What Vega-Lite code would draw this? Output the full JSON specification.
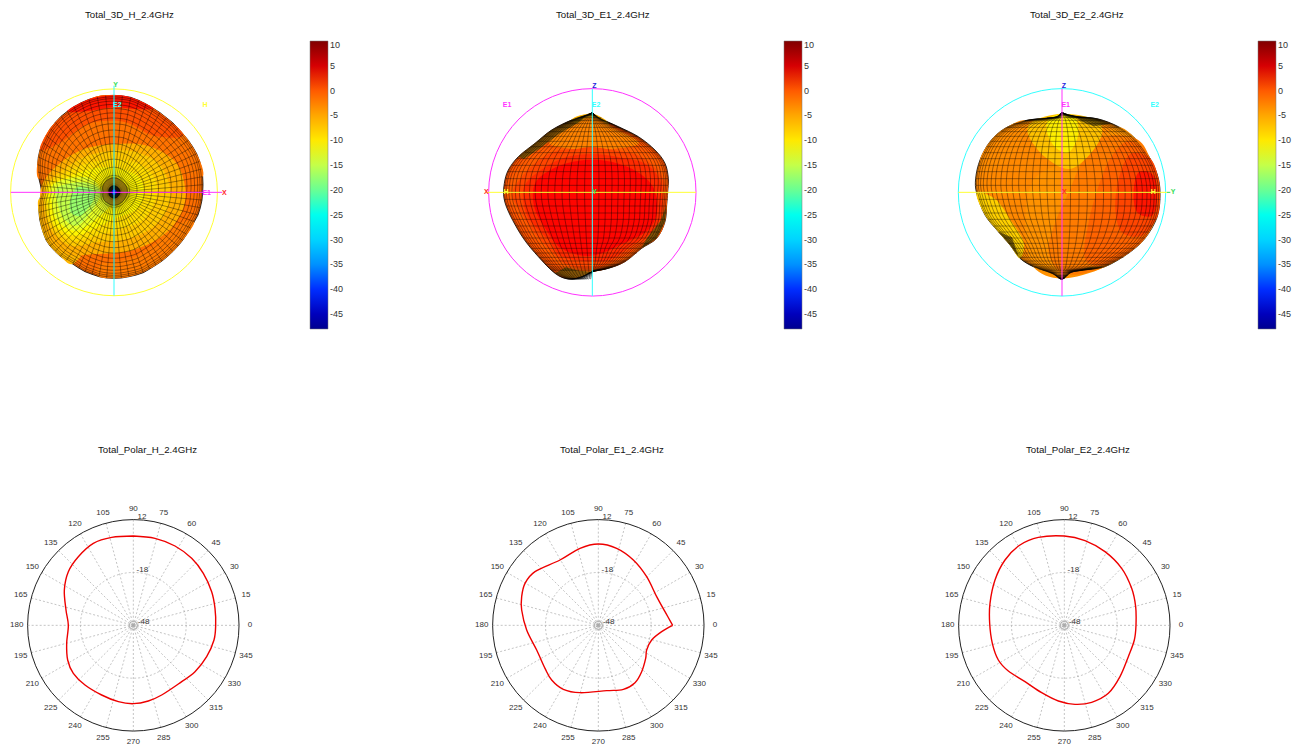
{"$schema":"https://vega.github.io/schema/vega-lite/v6.json","padding":{"left":0,"top":10,"right":0,"bottom":0},"bounds":"flush","spacing":435,"resolve":{"scale":{"fill":"independent"},"legend":{"fill":"independent"}},
"config":{"view":{"stroke":null},"mark":{"color":"#000"},"line":{"order":false},"style":{"m":{"strokeWidth":0.55,"opacity":0.7,"interpolate":"cardinal"},"r":{"strokeWidth":0.55,"opacity":0.7}},"title":{"font":"Liberation Sans","fontSize":9.7,"fontWeight":"normal","color":"#111","anchor":"start"},"text":{"font":"Liberation Sans"},"legend":{"labelFont":"Liberation Sans"}},
"datasets":{
"cen":[{"x":0,"y":0}],
"sp":[{"x":317,"y":0,"l":"0","lx":350,"ly":0},{"x":306,"y":82,"l":"15","lx":338,"ly":91},{"x":275,"y":159,"l":"30","lx":303,"ly":175},{"x":224,"y":224,"l":"45","lx":248,"ly":248},{"x":159,"y":275,"l":"60","lx":175,"ly":303},{"x":82,"y":306,"l":"75","lx":91,"ly":338},{"x":0,"y":317,"l":"90","lx":0,"ly":350},{"x":-82,"y":306,"l":"105","lx":-91,"ly":338},{"x":-159,"y":275,"l":"120","lx":-175,"ly":303},{"x":-224,"y":224,"l":"135","lx":-248,"ly":248},{"x":-275,"y":159,"l":"150","lx":-303,"ly":175},{"x":-306,"y":82,"l":"165","lx":-338,"ly":91},{"x":-317,"y":0,"l":"180","lx":-350,"ly":0},{"x":-306,"y":-82,"l":"195","lx":-338,"ly":-91},{"x":-275,"y":-159,"l":"210","lx":-303,"ly":-175},{"x":-224,"y":-224,"l":"225","lx":-248,"ly":-248},{"x":-159,"y":-275,"l":"240","lx":-175,"ly":-303},{"x":-82,"y":-306,"l":"255","lx":-91,"ly":-338},{"x":0,"y":-317,"l":"270","lx":0,"ly":-350},{"x":82,"y":-306,"l":"285","lx":91,"ly":-338},{"x":159,"y":-275,"l":"300","lx":175,"ly":-303},{"x":224,"y":-224,"l":"315","lx":248,"ly":-248},{"x":275,"y":-159,"l":"330","lx":303,"ly":-175},{"x":306,"y":-82,"l":"345","lx":338,"ly":-91}],
"dbl":[{"l":"12","x":26,"y":326},{"l":"-18","x":27,"y":167},{"l":"-48","x":31,"y":11}],
"cH":[{"x":0,"y":268},{"x":65,"y":261},{"x":125,"y":238},{"x":175,"y":201},{"x":210,"y":156},{"x":235,"y":101},{"x":245,"y":51},{"x":247,"y":0},{"x":242,"y":-44},{"x":220,"y":-94},{"x":185,"y":-139},{"x":135,"y":-176},{"x":85,"y":-209},{"x":45,"y":-227},{"x":0,"y":-235},{"x":-45,"y":-229},{"x":-95,"y":-209},{"x":-145,"y":-179},{"x":-180,"y":-144},{"x":-197,"y":-104},{"x":-200,"y":-54},{"x":-195,"y":0},{"x":-202,"y":46},{"x":-207,"y":106},{"x":-195,"y":161},{"x":-165,"y":206},{"x":-120,"y":246},{"x":-65,"y":264},{"x":0,"y":268}],
"cE1":[{"x":223,"y":0},{"x":190,"y":-19},{"x":160,"y":-44},{"x":145,"y":-74},{"x":142,"y":-99},{"x":130,"y":-139},{"x":110,"y":-172},{"x":75,"y":-192},{"x":25,"y":-196},{"x":-55,"y":-202},{"x":-105,"y":-192},{"x":-140,"y":-164},{"x":-160,"y":-129},{"x":-185,"y":-74},{"x":-215,"y":-14},{"x":-230,"y":46},{"x":-230,"y":86},{"x":-220,"y":126},{"x":-190,"y":161},{"x":-115,"y":196},{"x":-55,"y":231},{"x":0,"y":244},{"x":55,"y":231},{"x":105,"y":196},{"x":145,"y":146},{"x":175,"y":86},{"x":200,"y":41},{"x":223,"y":0}],
"cE2":[{"x":215,"y":0},{"x":210,"y":-44},{"x":192,"y":-94},{"x":167,"y":-154},{"x":132,"y":-204},{"x":82,"y":-231},{"x":32,"y":-237},{"x":-18,"y":-227},{"x":-68,"y":-202},{"x":-118,"y":-169},{"x":-168,"y":-137},{"x":-198,"y":-104},{"x":-216,"y":-54},{"x":-224,"y":6},{"x":-223,"y":66},{"x":-208,"y":136},{"x":-178,"y":196},{"x":-133,"y":241},{"x":-78,"y":264},{"x":0,"y":268},{"x":62,"y":254},{"x":122,"y":221},{"x":172,"y":171},{"x":202,"y":111},{"x":214,"y":56},{"x":215,"y":0}],
"hS":[{"x":266,"y":0},{"x":267,"y":23},{"x":266,"y":47},{"x":263,"y":70},{"x":257,"y":93},{"x":248,"y":116},{"x":236,"y":137},{"x":223,"y":156},{"x":208,"y":174},{"x":192,"y":192},{"x":176,"y":209},{"x":157,"y":224},{"x":138,"y":239},{"x":118,"y":252},{"x":96,"y":265},{"x":74,"y":276},{"x":50,"y":285},{"x":25,"y":289},{"x":0,"y":291},{"x":-25,"y":290},{"x":-50,"y":286},{"x":-75,"y":279},{"x":-98,"y":269},{"x":-120,"y":257},{"x":-140,"y":243},{"x":-159,"y":228},{"x":-176,"y":210},{"x":-191,"y":191},{"x":-203,"y":170},{"x":-213,"y":149},{"x":-222,"y":128},{"x":-227,"y":106},{"x":-229,"y":83},{"x":-228,"y":61},{"x":-225,"y":40},{"x":-220,"y":19},{"x":-217,"y":0},{"x":-222,"y":-19},{"x":-226,"y":-40},{"x":-225,"y":-60},{"x":-223,"y":-81},{"x":-218,"y":-102},{"x":-212,"y":-122},{"x":-204,"y":-143},{"x":-192,"y":-161},{"x":-177,"y":-177},{"x":-161,"y":-192},{"x":-143,"y":-204},{"x":-124,"y":-215},{"x":-106,"y":-227},{"x":-87,"y":-238},{"x":-66,"y":-246},{"x":-45,"y":-253},{"x":-22,"y":-257},{"x":0,"y":-258},{"x":22,"y":-257},{"x":45,"y":-253},{"x":67,"y":-248},{"x":88,"y":-241},{"x":107,"y":-230},{"x":126,"y":-218},{"x":144,"y":-206},{"x":161,"y":-192},{"x":177,"y":-177},{"x":192,"y":-161},{"x":206,"y":-144},{"x":218,"y":-126},{"x":230,"y":-107},{"x":241,"y":-88},{"x":252,"y":-68},{"x":259,"y":-46},{"x":264,"y":-23},{"x":266,"y":0}],
"hP":[
{"k":"b","v":-1.5,"x":-225,"y":40},{"k":"b","v":-1.5,"x":-222,"y":128},{"k":"b","v":-1.5,"x":-176,"y":210},{"k":"b","v":-1.5,"x":-75,"y":279},{"k":"b","v":-1.5,"x":0,"y":291},{"k":"b","v":-1.5,"x":96,"y":265},{"k":"b","v":-1.5,"x":192,"y":192},{"k":"b","v":-1.5,"x":248,"y":116},{"k":"b","v":-1.5,"x":266,"y":47},{"k":"b","v":-1.5,"x":200,"y":60},{"k":"b","v":-1.5,"x":150,"y":100},{"k":"b","v":-1.5,"x":60,"y":150},{"k":"b","v":-1.5,"x":0,"y":170},{"k":"b","v":-1.5,"x":-80,"y":150},{"k":"b","v":-1.5,"x":-150,"y":90},
{"k":"c","v":0.5,"x":-222,"y":128},{"k":"c","v":0.5,"x":-176,"y":210},{"k":"c","v":0.5,"x":-75,"y":279},{"k":"c","v":0.5,"x":0,"y":291},{"k":"c","v":0.5,"x":96,"y":265},{"k":"c","v":0.5,"x":208,"y":174},{"k":"c","v":0.5,"x":120,"y":170},{"k":"c","v":0.5,"x":50,"y":205},{"k":"c","v":0.5,"x":0,"y":215},{"k":"c","v":0.5,"x":-80,"y":205},{"k":"c","v":0.5,"x":-160,"y":150},
{"k":"d","v":2.5,"x":-140,"y":243},{"k":"d","v":2.5,"x":-75,"y":279},{"k":"d","v":2.5,"x":0,"y":291},{"k":"d","v":2.5,"x":50,"y":285},{"k":"d","v":2.5,"x":118,"y":252},{"k":"d","v":2.5,"x":60,"y":250},{"k":"d","v":2.5,"x":0,"y":255},{"k":"d","v":2.5,"x":-70,"y":245},
{"k":"e","v":-2,"x":241,"y":-88},{"k":"e","v":-2,"x":192,"y":-161},{"k":"e","v":-2,"x":126,"y":-218},{"k":"e","v":-2,"x":45,"y":-253},{"k":"e","v":-2,"x":-45,"y":-253},{"k":"e","v":-2,"x":-40,"y":-215},{"k":"e","v":-2,"x":0,"y":-210},{"k":"e","v":-2,"x":70,"y":-190},{"k":"e","v":-2,"x":130,"y":-150},{"k":"e","v":-2,"x":180,"y":-100},
{"k":"f","v":-6,"x":-222,"y":-19},{"k":"f","v":-6,"x":-223,"y":-81},{"k":"f","v":-6,"x":-204,"y":-143},{"k":"f","v":-6,"x":-161,"y":-192},{"k":"f","v":-6,"x":-124,"y":-215},{"k":"f","v":-6,"x":-90,"y":-160},{"k":"f","v":-6,"x":-150,"y":-90},
{"k":"g0","v":-5.5,"x":215,"y":0},{"k":"g0","v":-5.5,"x":185,"y":90},{"k":"g0","v":-5.5,"x":100,"y":140},{"k":"g0","v":-5.5,"x":0,"y":145},{"k":"g0","v":-5.5,"x":-90,"y":130},{"k":"g0","v":-5.5,"x":-165,"y":85},{"k":"g0","v":-5.5,"x":-215,"y":25},{"k":"g0","v":-5.5,"x":-220,"y":-40},{"k":"g0","v":-5.5,"x":-205,"y":-125},{"k":"g0","v":-5.5,"x":-145,"y":-185},{"k":"g0","v":-5.5,"x":-60,"y":-185},{"k":"g0","v":-5.5,"x":50,"y":-175},{"k":"g0","v":-5.5,"x":140,"y":-135},{"k":"g0","v":-5.5,"x":195,"y":-75},
{"k":"g","v":-7.5,"x":170,"y":0},{"k":"g","v":-7.5,"x":140,"y":80},{"k":"g","v":-7.5,"x":70,"y":120},{"k":"g","v":-7.5,"x":0,"y":125},{"k":"g","v":-7.5,"x":-80,"y":110},{"k":"g","v":-7.5,"x":-150,"y":70},{"k":"g","v":-7.5,"x":-205,"y":20},{"k":"g","v":-7.5,"x":-210,"y":-40},{"k":"g","v":-7.5,"x":-190,"y":-110},{"k":"g","v":-7.5,"x":-130,"y":-160},{"k":"g","v":-7.5,"x":-50,"y":-150},{"k":"g","v":-7.5,"x":40,"y":-140},{"k":"g","v":-7.5,"x":110,"y":-110},{"k":"g","v":-7.5,"x":155,"y":-60},
{"k":"g2","v":-9,"x":130,"y":0},{"k":"g2","v":-9,"x":105,"y":65},{"k":"g2","v":-9,"x":35,"y":97},{"k":"g2","v":-9,"x":-70,"y":90},{"k":"g2","v":-9,"x":-145,"y":58},{"k":"g2","v":-9,"x":-200,"y":18},{"k":"g2","v":-9,"x":-203,"y":-45},{"k":"g2","v":-9,"x":-182,"y":-105},{"k":"g2","v":-9,"x":-125,"y":-145},{"k":"g2","v":-9,"x":-55,"y":-130},{"k":"g2","v":-9,"x":20,"y":-110},{"k":"g2","v":-9,"x":90,"y":-80},
{"k":"h","v":-11,"x":90,"y":0},{"k":"h","v":-11,"x":70,"y":50},{"k":"h","v":-11,"x":0,"y":75},{"k":"h","v":-11,"x":-70,"y":70},{"k":"h","v":-11,"x":-140,"y":45},{"k":"h","v":-11,"x":-195,"y":15},{"k":"h","v":-11,"x":-195,"y":-50},{"k":"h","v":-11,"x":-175,"y":-100},{"k":"h","v":-11,"x":-120,"y":-130},{"k":"h","v":-11,"x":-60,"y":-110},{"k":"h","v":-11,"x":0,"y":-80},{"k":"h","v":-11,"x":70,"y":-50},
{"k":"i0","v":-13,"x":-30,"y":0},{"k":"i0","v":-13,"x":-80,"y":45},{"k":"i0","v":-13,"x":-180,"y":25},{"k":"i0","v":-13,"x":-185,"y":-40},{"k":"i0","v":-13,"x":-165,"y":-90},{"k":"i0","v":-13,"x":-115,"y":-115},{"k":"i0","v":-13,"x":-60,"y":-85},{"k":"i0","v":-13,"x":-10,"y":-35},
{"k":"i","v":-15,"x":-40,"y":0},{"k":"i","v":-15,"x":-90,"y":30},{"k":"i","v":-15,"x":-170,"y":15},{"k":"i","v":-15,"x":-170,"y":-30},{"k":"i","v":-15,"x":-150,"y":-80},{"k":"i","v":-15,"x":-110,"y":-100},{"k":"i","v":-15,"x":-70,"y":-60},
{"k":"j","v":-17.5,"x":-60,"y":5},{"k":"j","v":-17.5,"x":-110,"y":15},{"k":"j","v":-17.5,"x":-130,"y":-20},{"k":"j","v":-17.5,"x":-130,"y":-60},{"k":"j","v":-17.5,"x":-100,"y":-70},{"k":"j","v":-17.5,"x":-65,"y":-30}],
"hA":[{"s":"E1","x":-310,"y":0,"x2":325,"y2":0},{"s":"E2","x":0,"y":320,"x2":0,"y2":-310}],
"hT":[{"s":"Y","x":5,"y":322},{"s":"E2","x":10,"y":262},{"s":"H","x":273,"y":262},{"s":"E1","x":278,"y":-2},{"s":"X","x":331,"y":-2}],
"hC":[{"s":"H","x":0,"y":0}],
"e1S":[{"x":0,"y":239},{"x":23,"y":222},{"x":78,"y":197},{"x":138,"y":167},{"x":188,"y":127},{"x":218,"y":87},{"x":228,"y":42},{"x":226,"y":0},{"x":223,"y":-38},{"x":218,"y":-88},{"x":193,"y":-138},{"x":148,"y":-168},{"x":98,"y":-208},{"x":48,"y":-228},{"x":0,"y":-238},{"x":-32,"y":-253},{"x":-72,"y":-260},{"x":-112,"y":-243},{"x":-162,"y":-193},{"x":-207,"y":-138},{"x":-247,"y":-68},{"x":-265,"y":-18},{"x":-264,"y":27},{"x":-252,"y":67},{"x":-222,"y":107},{"x":-172,"y":147},{"x":-122,"y":187},{"x":-62,"y":217},{"x":-17,"y":232},{"x":0,"y":239}],
"e1L":[{"y":234,"x":-12,"x2":5},{"y":230,"x":-24,"x2":12},{"y":224,"x":-35,"x2":27},{"y":216,"x":-64,"x2":36},{"y":206,"x":-84,"x2":58},{"y":195,"x":-106,"x2":81},{"y":182,"x":-128,"x2":104},{"y":168,"x":-146,"x2":136},{"y":153,"x":-165,"x2":155},{"y":137,"x":-185,"x2":175},{"y":119,"x":-202,"x2":194},{"y":101,"x":-226,"x2":207},{"y":81,"x":-241,"x2":219},{"y":62,"x":-254,"x2":224},{"y":41,"x":-260,"x2":228},{"y":21,"x":-264,"x2":227},{"y":0,"x":-265,"x2":226},{"y":-21,"x":-264,"x2":226},{"y":-41,"x":-258,"x2":223},{"y":-62,"x":-249,"x2":222},{"y":-81,"x":-238,"x2":219},{"y":-101,"x":-228,"x2":211},{"y":-119,"x":-218,"x2":202},{"y":-137,"x":-208,"x2":193},{"y":-153,"x":-195,"x2":170},{"y":-168,"x":-183,"x2":148},{"y":-182,"x":-171,"x2":134},{"y":-195,"x":-160,"x2":114},{"y":-206,"x":-150,"x2":100},{"y":-216,"x":-142,"x2":80},{"y":-224,"x":-133,"x2":58},{"y":-230,"x":-125,"x2":40},{"y":-234,"x":-120,"x2":20}],
"e1P":[
{"k":"t","v":-6,"x":-62,"y":217},{"k":"t","v":-6,"x":0,"y":236},{"k":"t","v":-6,"x":50,"y":205},{"k":"t","v":-6,"x":0,"y":190},
{"k":"a","v":0,"x":-262,"y":10},{"k":"a","v":0,"x":-210,"y":90},{"k":"a","v":0,"x":-130,"y":150},{"k":"a","v":0,"x":-50,"y":180},{"k":"a","v":0,"x":0,"y":190},{"k":"a","v":0,"x":70,"y":170},{"k":"a","v":0,"x":140,"y":145},{"k":"a","v":0,"x":205,"y":90},{"k":"a","v":0,"x":226,"y":40},{"k":"a","v":0,"x":226,"y":0},{"k":"a","v":0,"x":218,"y":-88},{"k":"a","v":0,"x":193,"y":-138},{"k":"a","v":0,"x":148,"y":-168},{"k":"a","v":0,"x":98,"y":-208},{"k":"a","v":0,"x":48,"y":-228},{"k":"a","v":0,"x":0,"y":-238},{"k":"a","v":0,"x":-72,"y":-235},{"k":"a","v":0,"x":-120,"y":-200},{"k":"a","v":0,"x":-165,"y":-150},{"k":"a","v":0,"x":-210,"y":-90},{"k":"a","v":0,"x":-245,"y":-30},
{"k":"t2","v":-2.5,"x":-130,"y":150},{"k":"t2","v":-2.5,"x":-50,"y":205},{"k":"t2","v":-2.5,"x":0,"y":225},{"k":"t2","v":-2.5,"x":60,"y":195},{"k":"t2","v":-2.5,"x":140,"y":148},{"k":"t2","v":-2.5,"x":60,"y":130},{"k":"t2","v":-2.5,"x":0,"y":135},{"k":"t2","v":-2.5,"x":-60,"y":130},
{"k":"b","v":1,"x":-240,"y":0},{"k":"b","v":1,"x":-190,"y":70},{"k":"b","v":1,"x":-120,"y":120},{"k":"b","v":1,"x":-50,"y":130},{"k":"b","v":1,"x":0,"y":135},{"k":"b","v":1,"x":70,"y":125},{"k":"b","v":1,"x":140,"y":110},{"k":"b","v":1,"x":200,"y":60},{"k":"b","v":1,"x":222,"y":0},{"k":"b","v":1,"x":212,"y":-80},{"k":"b","v":1,"x":185,"y":-125},{"k":"b","v":1,"x":140,"y":-160},{"k":"b","v":1,"x":90,"y":-195},{"k":"b","v":1,"x":0,"y":-230},{"k":"b","v":1,"x":-80,"y":-215},{"k":"b","v":1,"x":-130,"y":-170},{"k":"b","v":1,"x":-175,"y":-120},{"k":"b","v":1,"x":-220,"y":-50},
{"k":"c0","v":2,"x":-205,"y":15},{"k":"c0","v":2,"x":-150,"y":70},{"k":"c0","v":2,"x":-80,"y":105},{"k":"c0","v":2,"x":0,"y":115},{"k":"c0","v":2,"x":80,"y":105},{"k":"c0","v":2,"x":160,"y":85},{"k":"c0","v":2,"x":205,"y":30},{"k":"c0","v":2,"x":208,"y":-60},{"k":"c0","v":2,"x":180,"y":-118},{"k":"c0","v":2,"x":120,"y":-158},{"k":"c0","v":2,"x":40,"y":-205},{"k":"c0","v":2,"x":-85,"y":-195},{"k":"c0","v":2,"x":-135,"y":-140},{"k":"c0","v":2,"x":-195,"y":-70},
{"k":"c","v":2.7,"x":-170,"y":30},{"k":"c","v":2.7,"x":-110,"y":75},{"k":"c","v":2.7,"x":-40,"y":95},{"k":"c","v":2.7,"x":40,"y":95},{"k":"c","v":2.7,"x":120,"y":70},{"k":"c","v":2.7,"x":180,"y":20},{"k":"c","v":2.7,"x":195,"y":-50},{"k":"c","v":2.7,"x":170,"y":-110},{"k":"c","v":2.7,"x":100,"y":-150},{"k":"c","v":2.7,"x":0,"y":-190},{"k":"c","v":2.7,"x":-90,"y":-170},{"k":"c","v":2.7,"x":-140,"y":-110},{"k":"c","v":2.7,"x":-175,"y":-40}],
"e1F":[
{"k":"a","x":-222,"y":107},{"k":"a","x":-172,"y":147},{"k":"a","x":-122,"y":187},{"k":"a","x":-62,"y":217},{"k":"a","x":-17,"y":232},{"k":"a","x":-40,"y":210},{"k":"a","x":-100,"y":175},{"k":"a","x":-160,"y":130},{"k":"a","x":-205,"y":100},
{"k":"b","x":223,"y":-38},{"k":"b","x":218,"y":-88},{"k":"b","x":193,"y":-138},{"k":"b","x":148,"y":-168},{"k":"b","x":165,"y":-135},{"k":"b","x":205,"y":-85},
{"k":"c","x":-112,"y":-243},{"k":"c","x":-72,"y":-260},{"k":"c","x":-32,"y":-253},{"k":"c","x":0,"y":-238},{"k":"c","x":-40,"y":-235},{"k":"c","x":-80,"y":-225}],
"e1A":[{"s":"H","x":-320,"y":0,"x2":311,"y2":0},{"s":"E2","x":0,"y":311,"x2":0,"y2":-311}],
"e1T":[{"s":"X","x":-318,"y":0},{"s":"H","x":-259,"y":0},{"s":"Z","x":6,"y":320},{"s":"E2","x":11,"y":262},{"s":"E1","x":-256,"y":262},{"s":"Y","x":7,"y":0}],
"e1C":[{"s":"E1","x":0,"y":0}],
"e2S":[{"x":0,"y":240},{"x":14,"y":234},{"x":49,"y":227},{"x":109,"y":220},{"x":169,"y":197},{"x":219,"y":162},{"x":264,"y":102},{"x":289,"y":42},{"x":294,"y":-18},{"x":284,"y":-78},{"x":249,"y":-138},{"x":199,"y":-183},{"x":129,"y":-223},{"x":69,"y":-233},{"x":29,"y":-240},{"x":0,"y":-260},{"x":-31,"y":-243},{"x":-86,"y":-223},{"x":-126,"y":-198},{"x":-156,"y":-158},{"x":-191,"y":-118},{"x":-231,"y":-68},{"x":-256,"y":-3},{"x":-259,"y":42},{"x":-246,"y":97},{"x":-216,"y":152},{"x":-171,"y":192},{"x":-111,"y":215},{"x":-51,"y":222},{"x":-16,"y":227},{"x":0,"y":240}],
"e2L":[{"y":234,"x":-8,"x2":14},{"y":230,"x":-12,"x2":34},{"y":224,"x":-45,"x2":75},{"y":216,"x":-105,"x2":115},{"y":206,"x":-146,"x2":146},{"y":195,"x":-165,"x2":172},{"y":182,"x":-182,"x2":190},{"y":168,"x":-199,"x2":209},{"y":153,"x":-215,"x2":226},{"y":137,"x":-224,"x2":238},{"y":119,"x":-234,"x2":250},{"y":101,"x":-244,"x2":265},{"y":81,"x":-250,"x2":272},{"y":62,"x":-254,"x2":280},{"y":41,"x":-259,"x2":289},{"y":21,"x":-258,"x2":292},{"y":0,"x":-256,"x2":293},{"y":-21,"x":-250,"x2":295},{"y":-41,"x":-242,"x2":290},{"y":-62,"x":-233,"x2":287},{"y":-81,"x":-221,"x2":282},{"y":-101,"x":-205,"x2":270},{"y":-119,"x":-190,"x2":260},{"y":-137,"x":-174,"x2":250},{"y":-153,"x":-160,"x2":232},{"y":-168,"x":-148,"x2":218},{"y":-182,"x":-136,"x2":202},{"y":-195,"x":-128,"x2":185},{"y":-206,"x":-113,"x2":159},{"y":-216,"x":-97,"x2":141},{"y":-224,"x":-84,"x2":120},{"y":-230,"x":-70,"x2":90},{"y":-234,"x":-58,"x2":62},{"y":-240,"x":-36,"x2":29},{"y":-250,"x":-18,"x2":14}],
"e2P":[
{"k":"a","v":-3.5,"x":-60,"y":60},{"k":"a","v":-3.5,"x":80,"y":120},{"k":"a","v":-3.5,"x":169,"y":197},{"k":"a","v":-3.5,"x":264,"y":102},{"k":"a","v":-3.5,"x":294,"y":-18},{"k":"a","v":-3.5,"x":249,"y":-138},{"k":"a","v":-3.5,"x":129,"y":-223},{"k":"a","v":-3.5,"x":0,"y":-258},{"k":"a","v":-3.5,"x":-86,"y":-223},{"k":"a","v":-3.5,"x":-110,"y":-120},{"k":"a","v":-3.5,"x":-100,"y":0},
{"k":"a2","v":-2,"x":20,"y":0},{"k":"a2","v":-2,"x":60,"y":90},{"k":"a2","v":-2,"x":120,"y":165},{"k":"a2","v":-2,"x":219,"y":162},{"k":"a2","v":-2,"x":264,"y":102},{"k":"a2","v":-2,"x":294,"y":-18},{"k":"a2","v":-2,"x":249,"y":-138},{"k":"a2","v":-2,"x":129,"y":-223},{"k":"a2","v":-2,"x":10,"y":-245},{"k":"a2","v":-2,"x":-40,"y":-180},{"k":"a2","v":-2,"x":-20,"y":-90},
{"k":"b","v":-0.5,"x":110,"y":20},{"k":"b","v":-0.5,"x":150,"y":110},{"k":"b","v":-0.5,"x":205,"y":155},{"k":"b","v":-0.5,"x":264,"y":102},{"k":"b","v":-0.5,"x":294,"y":-18},{"k":"b","v":-0.5,"x":249,"y":-138},{"k":"b","v":-0.5,"x":140,"y":-215},{"k":"b","v":-0.5,"x":70,"y":-200},{"k":"b","v":-0.5,"x":80,"y":-90},
{"k":"c","v":1,"x":170,"y":40},{"k":"c","v":1,"x":205,"y":115},{"k":"c","v":1,"x":264,"y":102},{"k":"c","v":1,"x":289,"y":42},{"k":"c","v":1,"x":294,"y":-18},{"k":"c","v":1,"x":284,"y":-78},{"k":"c","v":1,"x":240,"y":-130},{"k":"c","v":1,"x":180,"y":-120},{"k":"c","v":1,"x":160,"y":-50},
{"k":"c2","v":2.5,"x":230,"y":60},{"k":"c2","v":2.5,"x":275,"y":50},{"k":"c2","v":2.5,"x":285,"y":-20},{"k":"c2","v":2.5,"x":270,"y":-70},{"k":"c2","v":2.5,"x":225,"y":-60},{"k":"c2","v":2.5,"x":215,"y":0},
{"k":"d","v":-7,"x":-90,"y":212},{"k":"d","v":-7,"x":0,"y":236},{"k":"d","v":-7,"x":100,"y":218},{"k":"d","v":-7,"x":120,"y":175},{"k":"d","v":-7,"x":80,"y":110},{"k":"d","v":-7,"x":20,"y":70},{"k":"d","v":-7,"x":-50,"y":105},{"k":"d","v":-7,"x":-100,"y":170},
{"k":"e","v":-10.5,"x":-40,"y":220},{"k":"e","v":-10.5,"x":0,"y":235},{"k":"e","v":-10.5,"x":40,"y":225},{"k":"e","v":-10.5,"x":48,"y":170},{"k":"e","v":-10.5,"x":20,"y":120},{"k":"e","v":-10.5,"x":-20,"y":135},{"k":"e","v":-10.5,"x":-45,"y":180},
{"k":"f","v":-8,"x":-256,"y":-3},{"k":"f","v":-8,"x":-231,"y":-68},{"k":"f","v":-8,"x":-191,"y":-118},{"k":"f","v":-8,"x":-156,"y":-158},{"k":"f","v":-8,"x":-126,"y":-198},{"k":"f","v":-8,"x":-115,"y":-150},{"k":"f","v":-8,"x":-150,"y":-90},{"k":"f","v":-8,"x":-200,"y":-20},
{"k":"g","v":-3,"x":-246,"y":97},{"k":"g","v":-3,"x":-216,"y":152},{"k":"g","v":-3,"x":-171,"y":192},{"k":"g","v":-3,"x":-111,"y":215},{"k":"g","v":-3,"x":-120,"y":150},{"k":"g","v":-3,"x":-170,"y":90},{"k":"g","v":-3,"x":-230,"y":60}],
"e2F":[
{"k":"a","x":40,"y":228},{"k":"a","x":109,"y":220},{"k":"a","x":145,"y":205},{"k":"a","x":95,"y":198},{"k":"a","x":60,"y":212},
{"k":"b","x":-191,"y":-118},{"k":"b","x":-156,"y":-158},{"k":"b","x":-130,"y":-195},{"k":"b","x":-150,"y":-135},
{"k":"c","x":129,"y":-223},{"k":"c","x":69,"y":-233},{"k":"c","x":29,"y":-240},{"k":"c","x":80,"y":-225}],
"e2A":[{"s":"H","x":-311,"y":0,"x2":315,"y2":0},{"s":"Y","x":315,"y":0,"x2":325,"y2":0},{"s":"E1","x":0,"y":311,"x2":0,"y2":-311}],
"e2T":[{"s":"Y","x":333,"y":0},{"s":"H","x":274,"y":0},{"s":"Z","x":6,"y":320},{"s":"E1","x":11,"y":262},{"s":"E2","x":278,"y":262},{"s":"X","x":7,"y":0}],
"e2C":[{"s":"E2","x":0,"y":0}]
},
"vconcat":[
{"hconcat":[
{"width":474,"height":315,"title":{"text":"Total_3D_H_2.4GHz","dx":85,"offset":5},"resolve":{"scale":{"x":"independent","y":"independent"}},
"encoding":{"x":{"field":"x","type":"quantitative","axis":null,"scale":{"domain":[-342,1080]}},"y":{"field":"y","type":"quantitative","axis":null,"scale":{"domain":[-443,502]}}},
"layer":[
{"data":{"name":"hS"},"mark":{"type":"line","fill":"#ff6e00","stroke":"#000","strokeWidth":0.8}},
{"data":{"name":"hP"},"mark":{"type":"line","stroke":"transparent","interpolate":"cardinal-closed"},"encoding":{"detail":{"field":"k"},"fill":{"field":"v","type":"quantitative","scale":{"domain":[-48,-40.75,-26.25,-19,-11.75,2.75,10],"range":["#00008f","#0000ff","#00ffff","#80ff80","#ffff00","#ff0000","#800000"]},"legend":{"orient":"none","legendX":310,"legendY":16,"title":null,"gradientLength":288,"gradientThickness":18,"values":[-45,-40,-35,-30,-25,-20,-15,-10,-5,0,5,10],"labelExpr":"''+datum.value","labelFontSize":9,"labelOverlap":false,"gradientStrokeColor":"#777","gradientStrokeWidth":0.5,"padding":0,"labelColor":"#333"}}}},
{"data":{"name":"hS"},"mark":{"type":"rule","style":"r"},"encoding":{"x2":{"datum":0},"y2":{"datum":0}}},
{"data":{"name":"hS"},"mark":{"type":"line","style":"m"},"encoding":{"x":{"field":"x","type":"quantitative","axis":null,"scale":{"domain":[-3931,12414]}},"y":{"field":"y","type":"quantitative","axis":null,"scale":{"domain":[-5092,5770]}}}},
{"data":{"name":"hS"},"mark":{"type":"line","style":"m"},"encoding":{"x":{"field":"x","type":"quantitative","axis":null,"scale":{"domain":[-1966,6207]}},"y":{"field":"y","type":"quantitative","axis":null,"scale":{"domain":[-2546,2885]}}}},
{"data":{"name":"hS"},"mark":{"type":"line","style":"m"},"encoding":{"x":{"field":"x","type":"quantitative","axis":null,"scale":{"domain":[-1320,4170]}},"y":{"field":"y","type":"quantitative","axis":null,"scale":{"domain":[-1710,1938]}}}},
{"data":{"name":"hS"},"mark":{"type":"line","style":"m"},"encoding":{"x":{"field":"x","type":"quantitative","axis":null,"scale":{"domain":[-1000,3158]}},"y":{"field":"y","type":"quantitative","axis":null,"scale":{"domain":[-1295,1468]}}}},
{"data":{"name":"hS"},"mark":{"type":"line","style":"m"},"encoding":{"x":{"field":"x","type":"quantitative","axis":null,"scale":{"domain":[-809,2553]}},"y":{"field":"y","type":"quantitative","axis":null,"scale":{"domain":[-1047,1187]}}}},
{"data":{"name":"hS"},"mark":{"type":"line","style":"m"},"encoding":{"x":{"field":"x","type":"quantitative","axis":null,"scale":{"domain":[-684,2160]}},"y":{"field":"y","type":"quantitative","axis":null,"scale":{"domain":[-886,1004]}}}},
{"data":{"name":"hS"},"mark":{"type":"line","style":"m"},"encoding":{"x":{"field":"x","type":"quantitative","axis":null,"scale":{"domain":[-596,1882]}},"y":{"field":"y","type":"quantitative","axis":null,"scale":{"domain":[-772,875]}}}},
{"data":{"name":"hS"},"mark":{"type":"line","style":"m"},"encoding":{"x":{"field":"x","type":"quantitative","axis":null,"scale":{"domain":[-532,1680]}},"y":{"field":"y","type":"quantitative","axis":null,"scale":{"domain":[-689,781]}}}},
{"data":{"name":"hS"},"mark":{"type":"line","style":"m"},"encoding":{"x":{"field":"x","type":"quantitative","axis":null,"scale":{"domain":[-484,1528]}},"y":{"field":"y","type":"quantitative","axis":null,"scale":{"domain":[-627,710]}}}},
{"data":{"name":"hS"},"mark":{"type":"line","style":"m"},"encoding":{"x":{"field":"x","type":"quantitative","axis":null,"scale":{"domain":[-446,1410]}},"y":{"field":"y","type":"quantitative","axis":null,"scale":{"domain":[-578,655]}}}},
{"data":{"name":"hS"},"mark":{"type":"line","style":"m"},"encoding":{"x":{"field":"x","type":"quantitative","axis":null,"scale":{"domain":[-418,1319]}},"y":{"field":"y","type":"quantitative","axis":null,"scale":{"domain":[-541,613]}}}},
{"data":{"name":"hS"},"mark":{"type":"line","style":"m"},"encoding":{"x":{"field":"x","type":"quantitative","axis":null,"scale":{"domain":[-395,1247]}},"y":{"field":"y","type":"quantitative","axis":null,"scale":{"domain":[-512,580]}}}},
{"data":{"name":"hS"},"mark":{"type":"line","style":"m"},"encoding":{"x":{"field":"x","type":"quantitative","axis":null,"scale":{"domain":[-377,1192]}},"y":{"field":"y","type":"quantitative","axis":null,"scale":{"domain":[-489,554]}}}},
{"data":{"name":"hS"},"mark":{"type":"line","style":"m"},"encoding":{"x":{"field":"x","type":"quantitative","axis":null,"scale":{"domain":[-364,1149]}},"y":{"field":"y","type":"quantitative","axis":null,"scale":{"domain":[-471,534]}}}},
{"data":{"name":"hS"},"mark":{"type":"line","style":"m"},"encoding":{"x":{"field":"x","type":"quantitative","axis":null,"scale":{"domain":[-354,1118]}},"y":{"field":"y","type":"quantitative","axis":null,"scale":{"domain":[-459,520]}}}},
{"data":{"name":"hS"},"mark":{"type":"line","style":"m"},"encoding":{"x":{"field":"x","type":"quantitative","axis":null,"scale":{"domain":[-347,1096]}},"y":{"field":"y","type":"quantitative","axis":null,"scale":{"domain":[-450,510]}}}},
{"data":{"name":"hS"},"mark":{"type":"line","fill":"#7a5a10","fillOpacity":0.7,"stroke":"#000","strokeWidth":0.5},"encoding":{"x":{"field":"x","type":"quantitative","axis":null,"scale":{"domain":[-2280,7200]}},"y":{"field":"y","type":"quantitative","axis":null,"scale":{"domain":[-2953,3347]}}}},
{"data":{"name":"hS"},"mark":{"type":"line","fill":"#111","stroke":"#000","strokeWidth":0.5},"encoding":{"x":{"field":"x","type":"quantitative","axis":null,"scale":{"domain":[-4886,15429]}},"y":{"field":"y","type":"quantitative","axis":null,"scale":{"domain":[-6329,7171]}}}},
{"data":{"name":"hS"},"mark":{"type":"line","fill":"#0000cc","stroke":"transparent"},"encoding":{"x":{"field":"x","type":"quantitative","axis":null,"scale":{"domain":[-11400,36000]}},"y":{"field":"y","type":"quantitative","axis":null,"scale":{"domain":[-14767,16733]}}}},
{"data":{"name":"hC"},"mark":{"type":"point","size":42766,"strokeWidth":1,"opacity":1},"encoding":{"color":{"field":"s","type":"nominal","legend":null,"scale":{"domain":["X","Y","Z","H","E1","E2"],"range":["#ff2a2a","#33dd55","#2222dd","#ffff33","#ff33ff","#33ffff"]}}}},
{"data":{"name":"hA"},"mark":{"type":"rule","strokeWidth":1},"encoding":{"x2":{"field":"x2"},"y2":{"field":"y2"},"color":{"field":"s","type":"nominal","legend":null,"scale":{"domain":["X","Y","Z","H","E1","E2"],"range":["#ff2a2a","#33dd55","#2222dd","#ffff33","#ff33ff","#33ffff"]}}}},
{"data":{"name":"hT"},"mark":{"type":"text","fontSize":7,"fontWeight":"bold"},"encoding":{"text":{"field":"s"},"color":{"field":"s","type":"nominal","legend":null,"scale":{"domain":["X","Y","Z","H","E1","E2"],"range":["#ff2a2a","#33dd55","#2222dd","#ffff33","#ff33ff","#33ffff"]}}}}
]},
{"width":474,"height":315,"title":{"text":"Total_3D_E1_2.4GHz","dx":82,"offset":5},"resolve":{"scale":{"x":"independent"}},
"encoding":{"x":{"field":"x","type":"quantitative","axis":null,"scale":{"domain":[-355,1067]}},"y":{"field":"y","type":"quantitative","axis":null,"scale":{"domain":[-443,502]}}},
"layer":[
{"data":{"name":"e1S"},"mark":{"type":"line","fill":"#ff5400","stroke":"#000","strokeWidth":0.8,"interpolate":"cardinal"}},
{"data":{"name":"e1P"},"mark":{"type":"line","stroke":"transparent","interpolate":"cardinal-closed"},"encoding":{"detail":{"field":"k"},"fill":{"field":"v","type":"quantitative","scale":{"domain":[-48,-40.75,-26.25,-19,-11.75,2.75,10],"range":["#00008f","#0000ff","#00ffff","#80ff80","#ffff00","#ff0000","#800000"]},"legend":{"orient":"none","legendX":310,"legendY":16,"title":null,"gradientLength":288,"gradientThickness":18,"values":[-45,-40,-35,-30,-25,-20,-15,-10,-5,0,5,10],"labelExpr":"''+datum.value","labelFontSize":9,"labelOverlap":false,"gradientStrokeColor":"#777","gradientStrokeWidth":0.5,"padding":0,"labelColor":"#333"}}}},
{"data":{"name":"e1F"},"mark":{"type":"line","fill":"#6b5208","fillOpacity":0.85,"stroke":"transparent"},"encoding":{"detail":{"field":"k"}}},
{"data":{"name":"e1L"},"mark":{"type":"rule","style":"r"},"encoding":{"x2":{"field":"x2"}}},
{"data":{"name":"e1S"},"mark":{"type":"line","style":"m"},"encoding":{"x":{"field":"x","type":"quantitative","axis":null,"scale":{"domain":[-4080,12264]}}}},
{"data":{"name":"e1S"},"mark":{"type":"line","style":"m"},"encoding":{"x":{"field":"x","type":"quantitative","axis":null,"scale":{"domain":[-2040,6132]}}}},
{"data":{"name":"e1S"},"mark":{"type":"line","style":"m"},"encoding":{"x":{"field":"x","type":"quantitative","axis":null,"scale":{"domain":[-1371,4120]}}}},
{"data":{"name":"e1S"},"mark":{"type":"line","style":"m"},"encoding":{"x":{"field":"x","type":"quantitative","axis":null,"scale":{"domain":[-1038,3120]}}}},
{"data":{"name":"e1S"},"mark":{"type":"line","style":"m"},"encoding":{"x":{"field":"x","type":"quantitative","axis":null,"scale":{"domain":[-839,2522]}}}},
{"data":{"name":"e1S"},"mark":{"type":"line","style":"m"},"encoding":{"x":{"field":"x","type":"quantitative","axis":null,"scale":{"domain":[-710,2134]}}}},
{"data":{"name":"e1S"},"mark":{"type":"line","style":"m"},"encoding":{"x":{"field":"x","type":"quantitative","axis":null,"scale":{"domain":[-618,1859]}}}},
{"data":{"name":"e1S"},"mark":{"type":"line","style":"m"},"encoding":{"x":{"field":"x","type":"quantitative","axis":null,"scale":{"domain":[-552,1659]}}}},
{"data":{"name":"e1S"},"mark":{"type":"line","style":"m"},"encoding":{"x":{"field":"x","type":"quantitative","axis":null,"scale":{"domain":[-502,1509]}}}},
{"data":{"name":"e1S"},"mark":{"type":"line","style":"m"},"encoding":{"x":{"field":"x","type":"quantitative","axis":null,"scale":{"domain":[-463,1393]}}}},
{"data":{"name":"e1S"},"mark":{"type":"line","style":"m"},"encoding":{"x":{"field":"x","type":"quantitative","axis":null,"scale":{"domain":[-433,1303]}}}},
{"data":{"name":"e1S"},"mark":{"type":"line","style":"m"},"encoding":{"x":{"field":"x","type":"quantitative","axis":null,"scale":{"domain":[-410,1232]}}}},
{"data":{"name":"e1S"},"mark":{"type":"line","style":"m"},"encoding":{"x":{"field":"x","type":"quantitative","axis":null,"scale":{"domain":[-392,1178]}}}},
{"data":{"name":"e1S"},"mark":{"type":"line","style":"m"},"encoding":{"x":{"field":"x","type":"quantitative","axis":null,"scale":{"domain":[-378,1135]}}}},
{"data":{"name":"e1S"},"mark":{"type":"line","style":"m"},"encoding":{"x":{"field":"x","type":"quantitative","axis":null,"scale":{"domain":[-367,1105]}}}},
{"data":{"name":"e1S"},"mark":{"type":"line","style":"m"},"encoding":{"x":{"field":"x","type":"quantitative","axis":null,"scale":{"domain":[-360,1083]}}}},
{"data":{"name":"e1C"},"mark":{"type":"point","size":43000,"strokeWidth":1,"opacity":1},"encoding":{"color":{"field":"s","type":"nominal","legend":null,"scale":{"domain":["X","Y","Z","H","E1","E2"],"range":["#ff2a2a","#33dd55","#2222dd","#ffff33","#ff33ff","#33ffff"]}}}},
{"data":{"name":"e1A"},"mark":{"type":"rule","strokeWidth":1},"encoding":{"x2":{"field":"x2"},"y2":{"field":"y2"},"color":{"field":"s","type":"nominal","legend":null,"scale":{"domain":["X","Y","Z","H","E1","E2"],"range":["#ff2a2a","#33dd55","#2222dd","#ffff33","#ff33ff","#33ffff"]}}}},
{"data":{"name":"e1T"},"mark":{"type":"text","fontSize":7,"fontWeight":"bold"},"encoding":{"text":{"field":"s"},"color":{"field":"s","type":"nominal","legend":null,"scale":{"domain":["X","Y","Z","H","E1","E2"],"range":["#ff2a2a","#33dd55","#2222dd","#ffff33","#ff33ff","#33ffff"]}}}}
]},
{"width":358,"height":315,"title":{"text":"Total_3D_E2_2.4GHz","dx":82,"offset":5},"resolve":{"scale":{"x":"independent"}},
"encoding":{"x":{"field":"x","type":"quantitative","axis":null,"scale":{"domain":[-342,732]}},"y":{"field":"y","type":"quantitative","axis":null,"scale":{"domain":[-443,502]}}},
"layer":[
{"data":{"name":"e2S"},"mark":{"type":"line","fill":"#ff8800","stroke":"#000","strokeWidth":0.8,"interpolate":"cardinal"}},
{"data":{"name":"e2P"},"mark":{"type":"line","stroke":"transparent","interpolate":"cardinal-closed"},"encoding":{"detail":{"field":"k"},"fill":{"field":"v","type":"quantitative","scale":{"domain":[-48,-40.75,-26.25,-19,-11.75,2.75,10],"range":["#00008f","#0000ff","#00ffff","#80ff80","#ffff00","#ff0000","#800000"]},"legend":{"orient":"none","legendX":310,"legendY":16,"title":null,"gradientLength":288,"gradientThickness":18,"values":[-45,-40,-35,-30,-25,-20,-15,-10,-5,0,5,10],"labelExpr":"''+datum.value","labelFontSize":9,"labelOverlap":false,"gradientStrokeColor":"#777","gradientStrokeWidth":0.5,"padding":0,"labelColor":"#333"}}}},
{"data":{"name":"e2F"},"mark":{"type":"line","fill":"#6b5208","fillOpacity":0.85,"stroke":"transparent"},"encoding":{"detail":{"field":"k"}}},
{"data":{"name":"e2L"},"mark":{"type":"rule","style":"r"},"encoding":{"x2":{"field":"x2"}}},
{"data":{"name":"e2S"},"mark":{"type":"line","style":"m"},"encoding":{"x":{"field":"x","type":"quantitative","axis":null,"scale":{"domain":[-3931,8414]}}}},
{"data":{"name":"e2S"},"mark":{"type":"line","style":"m"},"encoding":{"x":{"field":"x","type":"quantitative","axis":null,"scale":{"domain":[-1966,4207]}}}},
{"data":{"name":"e2S"},"mark":{"type":"line","style":"m"},"encoding":{"x":{"field":"x","type":"quantitative","axis":null,"scale":{"domain":[-1320,2826]}}}},
{"data":{"name":"e2S"},"mark":{"type":"line","style":"m"},"encoding":{"x":{"field":"x","type":"quantitative","axis":null,"scale":{"domain":[-1000,2140]}}}},
{"data":{"name":"e2S"},"mark":{"type":"line","style":"m"},"encoding":{"x":{"field":"x","type":"quantitative","axis":null,"scale":{"domain":[-809,1730]}}}},
{"data":{"name":"e2S"},"mark":{"type":"line","style":"m"},"encoding":{"x":{"field":"x","type":"quantitative","axis":null,"scale":{"domain":[-684,1464]}}}},
{"data":{"name":"e2S"},"mark":{"type":"line","style":"m"},"encoding":{"x":{"field":"x","type":"quantitative","axis":null,"scale":{"domain":[-596,1275]}}}},
{"data":{"name":"e2S"},"mark":{"type":"line","style":"m"},"encoding":{"x":{"field":"x","type":"quantitative","axis":null,"scale":{"domain":[-532,1138]}}}},
{"data":{"name":"e2S"},"mark":{"type":"line","style":"m"},"encoding":{"x":{"field":"x","type":"quantitative","axis":null,"scale":{"domain":[-484,1035]}}}},
{"data":{"name":"e2S"},"mark":{"type":"line","style":"m"},"encoding":{"x":{"field":"x","type":"quantitative","axis":null,"scale":{"domain":[-446,956]}}}},
{"data":{"name":"e2S"},"mark":{"type":"line","style":"m"},"encoding":{"x":{"field":"x","type":"quantitative","axis":null,"scale":{"domain":[-418,894]}}}},
{"data":{"name":"e2S"},"mark":{"type":"line","style":"m"},"encoding":{"x":{"field":"x","type":"quantitative","axis":null,"scale":{"domain":[-395,845]}}}},
{"data":{"name":"e2S"},"mark":{"type":"line","style":"m"},"encoding":{"x":{"field":"x","type":"quantitative","axis":null,"scale":{"domain":[-377,808]}}}},
{"data":{"name":"e2S"},"mark":{"type":"line","style":"m"},"encoding":{"x":{"field":"x","type":"quantitative","axis":null,"scale":{"domain":[-364,779]}}}},
{"data":{"name":"e2S"},"mark":{"type":"line","style":"m"},"encoding":{"x":{"field":"x","type":"quantitative","axis":null,"scale":{"domain":[-354,758]}}}},
{"data":{"name":"e2S"},"mark":{"type":"line","style":"m"},"encoding":{"x":{"field":"x","type":"quantitative","axis":null,"scale":{"domain":[-347,743]}}}},
{"data":{"name":"e2C"},"mark":{"type":"point","size":43000,"strokeWidth":1,"opacity":1},"encoding":{"color":{"field":"s","type":"nominal","legend":null,"scale":{"domain":["X","Y","Z","H","E1","E2"],"range":["#ff2a2a","#33dd55","#2222dd","#ffff33","#ff33ff","#33ffff"]}}}},
{"data":{"name":"e2A"},"mark":{"type":"rule","strokeWidth":1},"encoding":{"x2":{"field":"x2"},"y2":{"field":"y2"},"color":{"field":"s","type":"nominal","legend":null,"scale":{"domain":["X","Y","Z","H","E1","E2"],"range":["#ff2a2a","#33dd55","#2222dd","#ffff33","#ff33ff","#33ffff"]}}}},
{"data":{"name":"e2T"},"mark":{"type":"text","fontSize":7,"fontWeight":"bold"},"encoding":{"text":{"field":"s"},"color":{"field":"s","type":"nominal","legend":null,"scale":{"domain":["X","Y","Z","H","E1","E2"],"range":["#ff2a2a","#33dd55","#2222dd","#ffff33","#ff33ff","#33ffff"]}}}}
]}
],"spacing":0,"bounds":"flush","resolve":{"scale":{"fill":"independent"},"legend":{"fill":"independent"}}},
{"hconcat":[
{"width":465,"height":287,"title":{"text":"Total_Polar_H_2.4GHz","dx":98,"offset":5},
"encoding":{"x":{"field":"x","type":"quantitative","axis":null,"scale":{"domain":[-400,995]}},"y":{"field":"y","type":"quantitative","axis":null,"scale":{"domain":[-365,496]}}},
"layer":[
{"data":{"name":"sp"},"mark":{"type":"rule","stroke":"#aaa","strokeWidth":0.7,"strokeDash":[2,2]},"encoding":{"x2":{"datum":0},"y2":{"datum":0}}},
{"data":{"name":"cen"},"mark":{"type":"point","size":11172,"stroke":"#aaa","strokeWidth":0.7,"strokeDash":[2,2],"opacity":1}},
{"data":{"name":"cen"},"mark":{"type":"point","size":44690,"stroke":"#222","strokeWidth":1,"opacity":1}},
{"data":{"name":"cen"},"mark":{"type":"point","size":60,"stroke":"#888","strokeWidth":0.5,"opacity":1}},
{"data":{"name":"cen"},"mark":{"type":"point","size":20,"stroke":"#888","strokeWidth":0.5,"opacity":1}},
{"data":{"name":"sp"},"mark":{"type":"text","fontSize":8,"color":"#333"},"encoding":{"x":{"field":"lx","type":"quantitative"},"y":{"field":"ly","type":"quantitative"},"text":{"field":"l"}}},
{"data":{"name":"dbl"},"mark":{"type":"text","fontSize":8,"color":"#333"},"encoding":{"text":{"field":"l"}}},
{"data":{"name":"cH"},"mark":{"type":"line","stroke":"#ee0000","strokeWidth":1.4,"interpolate":"cardinal"}}
]},
{"width":466,"height":287,"title":{"text":"Total_Polar_E1_2.4GHz","dx":95,"offset":5},
"encoding":{"x":{"field":"x","type":"quantitative","axis":null,"scale":{"domain":[-400,998]}},"y":{"field":"y","type":"quantitative","axis":null,"scale":{"domain":[-365,496]}}},
"layer":[
{"data":{"name":"sp"},"mark":{"type":"rule","stroke":"#aaa","strokeWidth":0.7,"strokeDash":[2,2]},"encoding":{"x2":{"datum":0},"y2":{"datum":0}}},
{"data":{"name":"cen"},"mark":{"type":"point","size":11172,"stroke":"#aaa","strokeWidth":0.7,"strokeDash":[2,2],"opacity":1}},
{"data":{"name":"cen"},"mark":{"type":"point","size":44690,"stroke":"#222","strokeWidth":1,"opacity":1}},
{"data":{"name":"cen"},"mark":{"type":"point","size":60,"stroke":"#888","strokeWidth":0.5,"opacity":1}},
{"data":{"name":"cen"},"mark":{"type":"point","size":20,"stroke":"#888","strokeWidth":0.5,"opacity":1}},
{"data":{"name":"sp"},"mark":{"type":"text","fontSize":8,"color":"#333"},"encoding":{"x":{"field":"lx","type":"quantitative"},"y":{"field":"ly","type":"quantitative"},"text":{"field":"l"}}},
{"data":{"name":"dbl"},"mark":{"type":"text","fontSize":8,"color":"#333"},"encoding":{"text":{"field":"l"}}},
{"data":{"name":"cE1"},"mark":{"type":"line","stroke":"#ee0000","strokeWidth":1.4,"interpolate":"cardinal"}}
]},
{"width":375,"height":287,"title":{"text":"Total_Polar_E2_2.4GHz","dx":95,"offset":5},
"encoding":{"x":{"field":"x","type":"quantitative","axis":null,"scale":{"domain":[-400,725]}},"y":{"field":"y","type":"quantitative","axis":null,"scale":{"domain":[-365,496]}}},
"layer":[
{"data":{"name":"sp"},"mark":{"type":"rule","stroke":"#aaa","strokeWidth":0.7,"strokeDash":[2,2]},"encoding":{"x2":{"datum":0},"y2":{"datum":0}}},
{"data":{"name":"cen"},"mark":{"type":"point","size":11172,"stroke":"#aaa","strokeWidth":0.7,"strokeDash":[2,2],"opacity":1}},
{"data":{"name":"cen"},"mark":{"type":"point","size":44690,"stroke":"#222","strokeWidth":1,"opacity":1}},
{"data":{"name":"cen"},"mark":{"type":"point","size":60,"stroke":"#888","strokeWidth":0.5,"opacity":1}},
{"data":{"name":"cen"},"mark":{"type":"point","size":20,"stroke":"#888","strokeWidth":0.5,"opacity":1}},
{"data":{"name":"sp"},"mark":{"type":"text","fontSize":8,"color":"#333"},"encoding":{"x":{"field":"lx","type":"quantitative"},"y":{"field":"ly","type":"quantitative"},"text":{"field":"l"}}},
{"data":{"name":"dbl"},"mark":{"type":"text","fontSize":8,"color":"#333"},"encoding":{"text":{"field":"l"}}},
{"data":{"name":"cE2"},"mark":{"type":"line","stroke":"#ee0000","strokeWidth":1.4,"interpolate":"cardinal"}}
]}
],"spacing":0,"bounds":"flush"}
]}
